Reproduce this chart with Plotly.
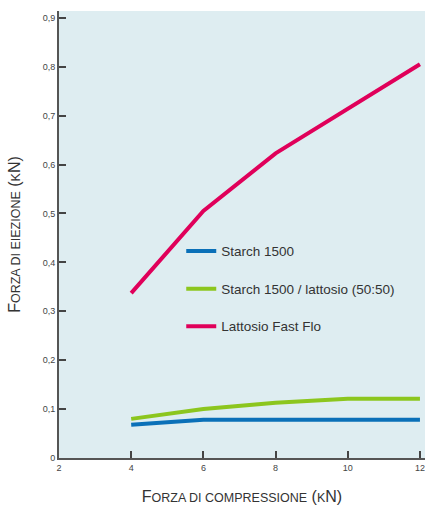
import plotly.graph_objects as go

compressione = [4, 6, 8, 10, 12]
starch_1500 = [0.068, 0.078, 0.078, 0.078, 0.078]
starch_lattosio = [0.080, 0.100, 0.113, 0.121, 0.121]
lattosio_fast_flo = [0.337, 0.505, 0.623, 0.713, 0.805]

series_names = ["Starch 1500", "Starch 1500 / lattosio (50:50)", "Lattosio Fast Flo"]
series_colors = ["#0a70b8", "#8cc61e", "#e0005a"]

x_tickvals = [2, 4, 6, 8, 10, 12]
x_ticktext = ["2", "4", "6", "8", "10", "12"]
y_tickvals = [0, 0.1, 0.2, 0.3, 0.4, 0.5, 0.6, 0.7, 0.8, 0.9]
y_ticktext = ["0", "0,1", "0,2", "0,3", "0,4", "0,5", "0,6", "0,7", "0,8", "0,9"]

fig = go.Figure()
for i, (name, ys) in enumerate(zip(series_names, [starch_1500, starch_lattosio, lattosio_fast_flo])):
    fig.add_trace(go.Scatter(
        x=compressione, y=ys, mode="lines", name=name,
        legendgroup=f"g{i}",
        line=dict(color=series_colors[i], width=4),
    ))

xtitle = ("F<span style='font-size:12.5px'>ORZA DI COMPRESSIONE</span> ("
          "<span style='font-size:12.5px'>K</span>N)")
ytitle = ("F<span style='font-size:12.5px'>ORZA DI EIEZIONE</span> ("
          "<span style='font-size:12.5px'>K</span>N)")

axis_common = dict(
    showline=True, linecolor="#555555", linewidth=2,
    ticks="inside", ticklen=7, tickwidth=2, tickcolor="#444444",
    showgrid=False, zeroline=False, automargin=False,
    tickfont=dict(family="Liberation Sans, Arial", size=9, color="#444444"),
    title_font=dict(family="Liberation Sans, Arial", size=16, color="#333333"),
)

fig.update_layout(
    width=425, height=506,
    margin=dict(l=59, r=0, t=11, b=48),
    paper_bgcolor="white",
    plot_bgcolor="#deedf1",
    font=dict(family="Liberation Sans, Arial", color="#333333"),
    xaxis=dict(range=[2, 12.14], tickvals=x_tickvals, ticktext=x_ticktext,
               title=dict(text=xtitle, standoff=19), **axis_common),
    yaxis=dict(range=[0, 0.914], tickvals=y_tickvals, ticktext=y_ticktext,
               title=dict(text=ytitle, standoff=18), **axis_common),
    legend=dict(
        x=0.334, y=0.497, xanchor="left", yanchor="top",
        bgcolor="rgba(0,0,0,0)",
        font=dict(family="Liberation Sans, Arial", size=13.5, color="#333333"),
        itemwidth=30,
        tracegroupgap=17,
        traceorder="grouped",
    ),
)

fig.write_html(
    "out.html",
    config={"displayModeBar": False},
    post_script="document.body.style.margin='0';"
                "document.documentElement.style.overflow='hidden';"
                "document.body.style.overflow='hidden';",
)
